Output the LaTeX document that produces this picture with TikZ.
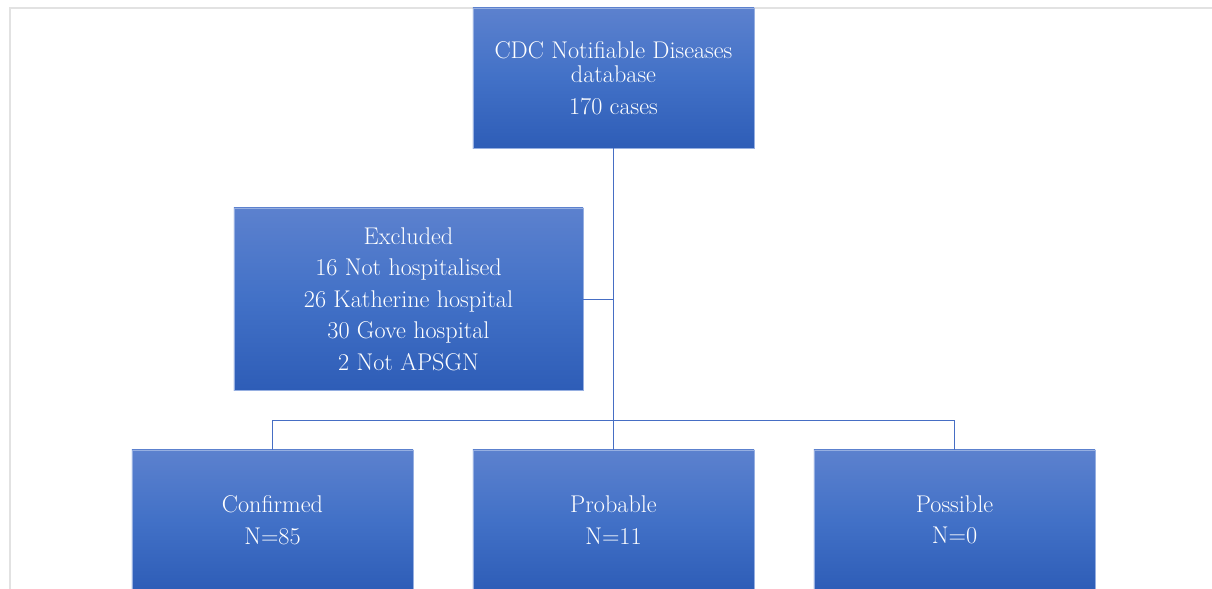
\documentclass[tikz,border=0pt]{standalone}
\usetikzlibrary{calc}
\definecolor{boxtop}{RGB}{92,129,206}
\definecolor{boxmid}{RGB}{66,113,199}
\definecolor{boxbot}{RGB}{46,93,183}
\definecolor{boxedge}{RGB}{150,175,225}
\definecolor{linkcol}{RGB}{70,110,196}
\definecolor{framecol}{RGB}{226,226,226}
\tikzset{
  flowbox/.style={rectangle, top color=boxtop, bottom color=boxbot, middle color=boxmid,
    draw=boxedge, line width=0.4pt, text=white, align=center,
    font=\fontsize{17.2}{17.2}\selectfont, inner sep=0pt},
  smallbox/.style={flowbox, minimum width=7.025cm, minimum height=3.5cm},
  link/.style={draw=linkcol, line width=0.7pt},
  frame/.style={draw=framecol, line width=0.8pt}
}
\begin{document}
\begin{tikzpicture}[x=0.025cm,y=-0.025cm]
\useasboundingbox (0,0) rectangle (1212,588);
\clip (0,0) rectangle (1212,588);
\fill[white] (0,0) rectangle (1212,588);
\draw[frame] (1212,8) -- (10,8) -- (10,600);
\node[smallbox] (top) at (613.5,78) {CDC Notifiable Diseases\\ database\\[5.2pt] 170 cases};
\node[flowbox, minimum width=8.725cm, minimum height=4.55cm] (excl) at (408.5,299)
  {Excluded\\[5.2pt] 16 Not hospitalised\\[5.2pt] 26 Katherine hospital\\[5.2pt] 30 Gove hospital\\[5.2pt] 2 Not APSGN};
\node[smallbox] (conf) at (272.5,520) {Confirmed\\[5.2pt] N=85};
\node[smallbox] (prob) at (613.5,520) {Probable\\[5.2pt] N=11};
\node[smallbox] (poss) at (954.5,520) {Possible\\[5.2pt] N=0};
\coordinate (bus) at (613.5,420);
\coordinate (busL) at (272.5,420);
\coordinate (busR) at (954.5,420);
\coordinate (exj) at (613.5,299);
\draw[link] (top.south) -- (bus);
\draw[link] (busL) -- (busR);
\draw[link] (busL) -- (conf.north);
\draw[link] (bus) -- (prob.north);
\draw[link] (busR) -- (poss.north);
\draw[link] (excl.east) -- (exj);
\end{tikzpicture}
\end{document}
